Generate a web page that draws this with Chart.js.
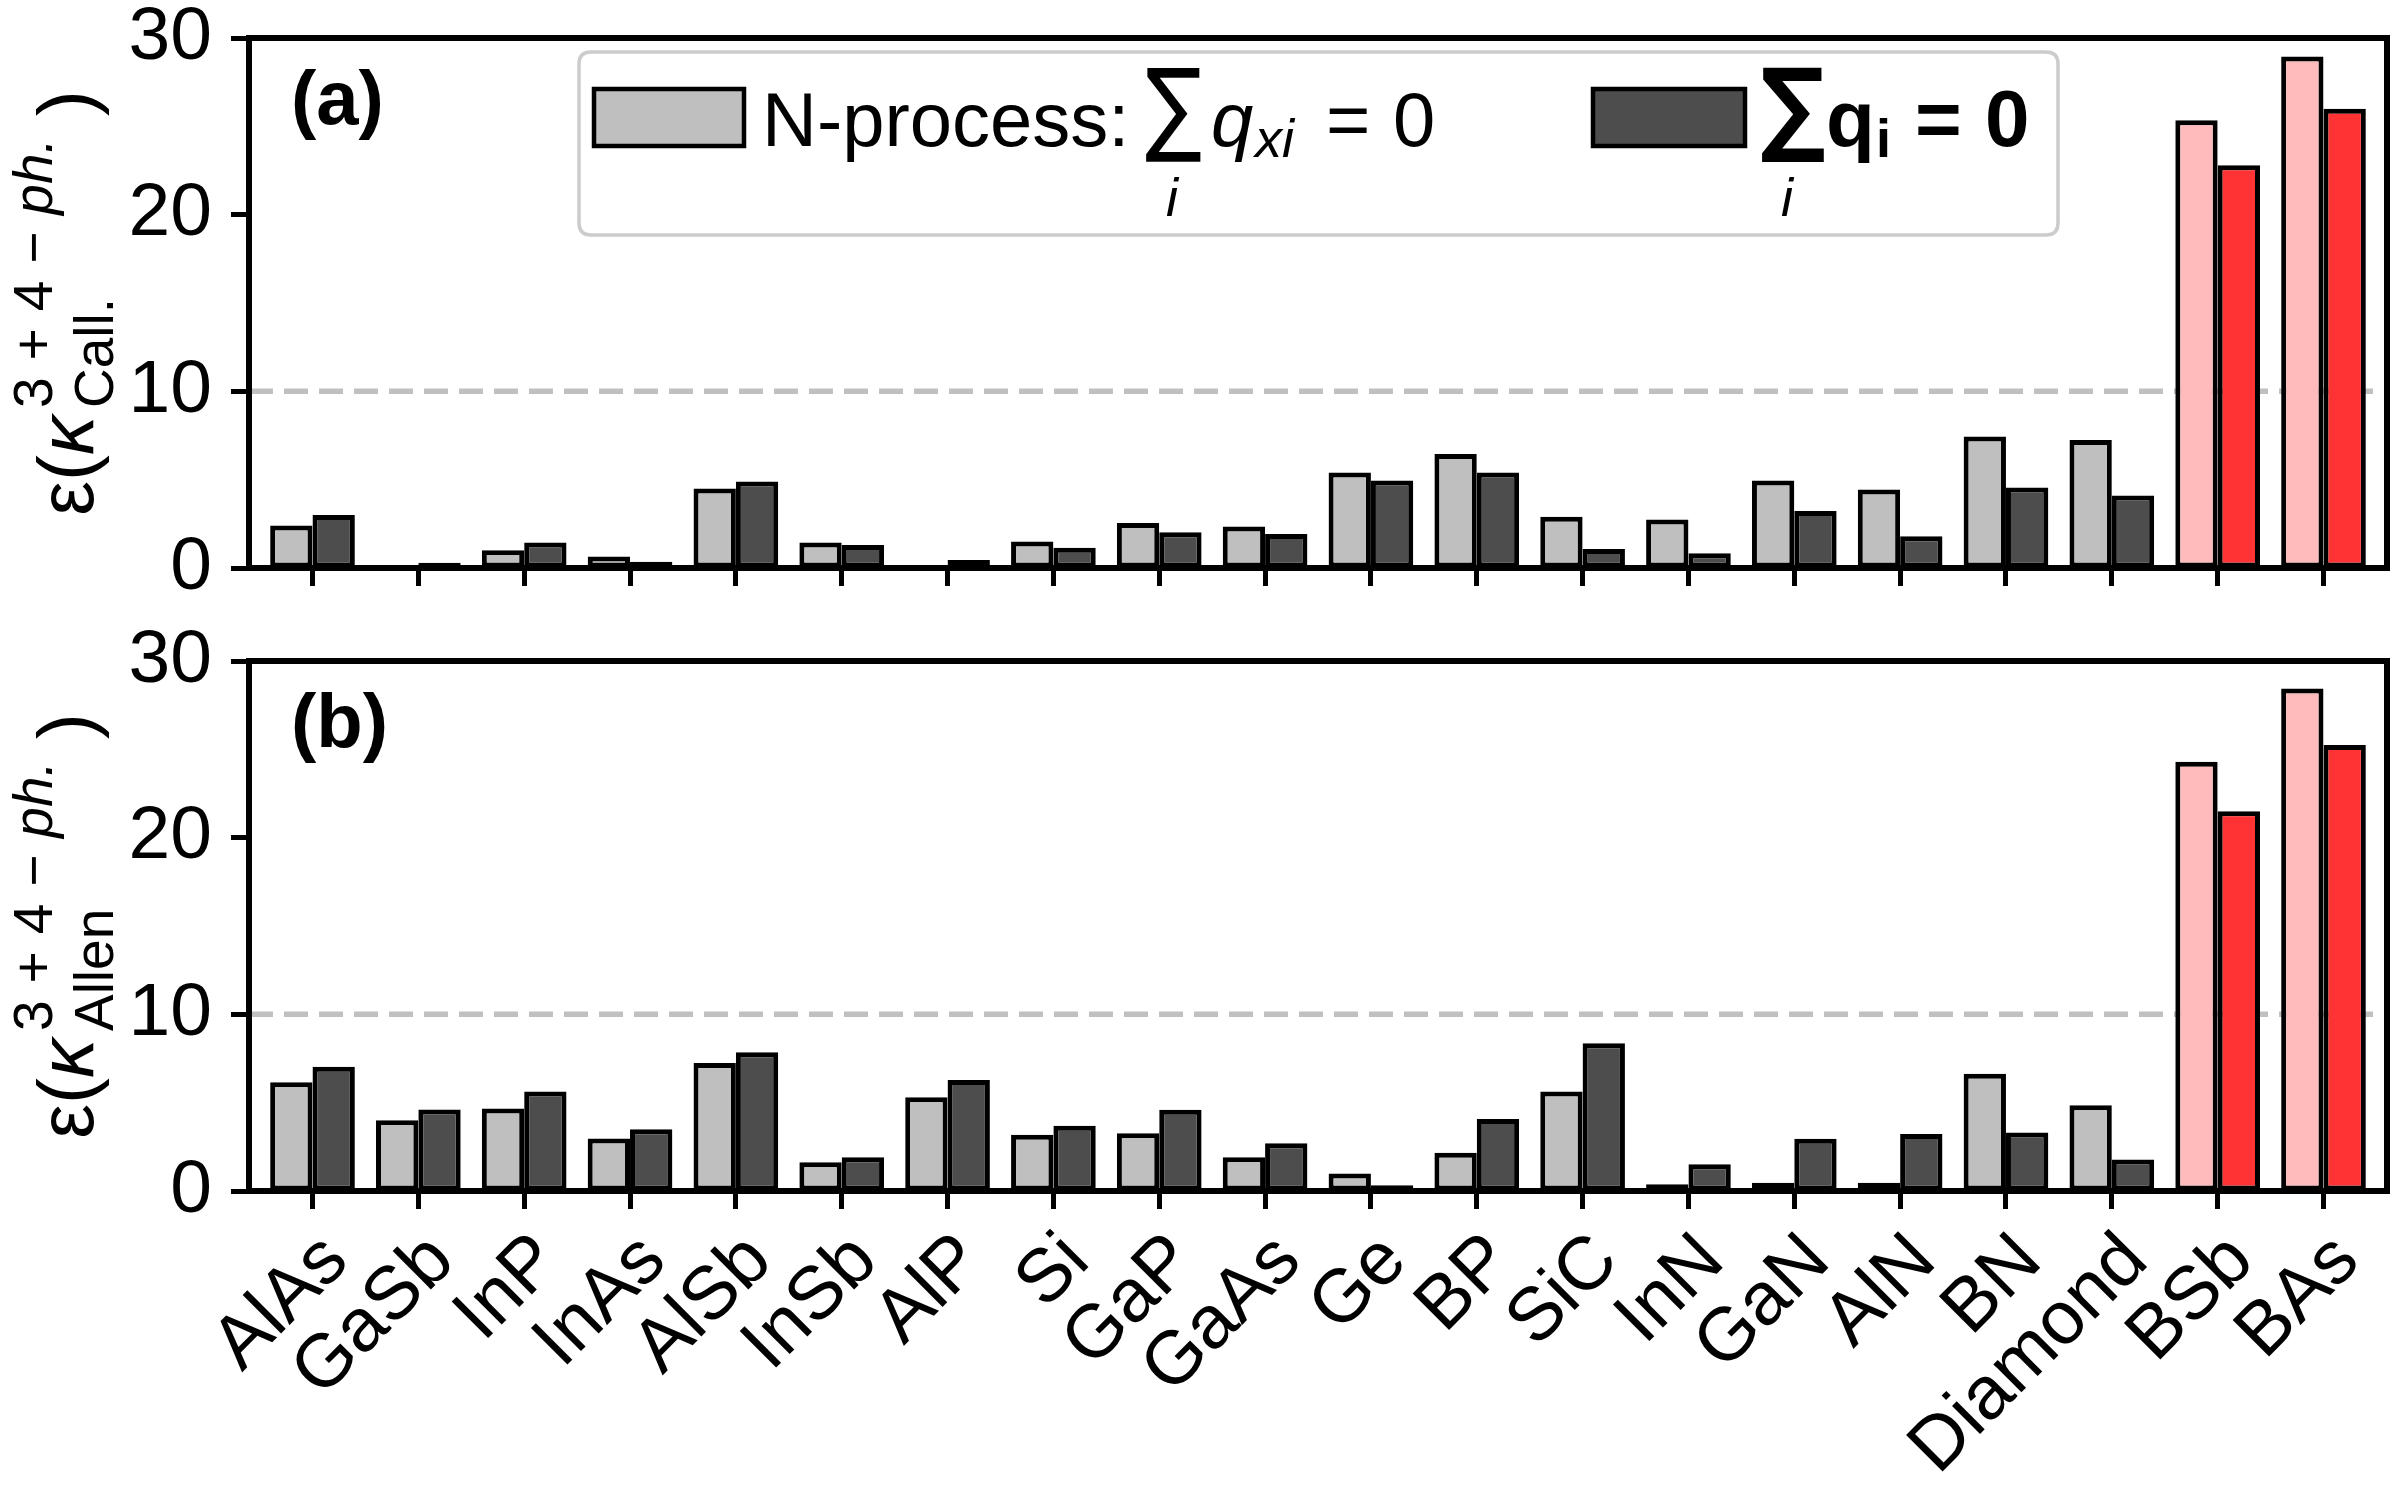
<!DOCTYPE html>
<html><head><meta charset="utf-8">
<script src="https://cdn.jsdelivr.net/npm/chart.js@4.4.1/dist/chart.umd.min.js"></script>
<style>
html,body{margin:0;padding:0;background:#fff;}
#wrap{position:relative;width:2400px;height:1500px;background:#fff;overflow:hidden;}
canvas{position:absolute;left:0;}
</style></head><body>
<div id="wrap">
<canvas id="cA" width="2400" height="640" style="top:0;width:2400px;height:640px"></canvas>
<canvas id="cB" width="2400" height="920" style="top:580px;width:2400px;height:920px"></canvas>
</div>
<script>
// ---------------- data ----------------
const categories = ['AlAs','GaSb','InP','InAs','AlSb','InSb','AlP','Si','GaP','GaAs','Ge','BP','SiC','InN','GaN','AlN','BN','Diamond','BSb','BAs'];
// panel (a): Callaway
const nProcessCall = [2.4,0.05,1.0,0.65,4.5,1.45,0.05,1.5,2.55,2.35,5.4,6.45,2.9,2.75,4.95,4.45,7.45,7.25,25.35,28.95];
const totalCall    = [3.0,0.3,1.45,0.35,4.9,1.3,0.45,1.15,2.02,1.93,4.95,5.4,1.07,0.83,3.23,1.8,4.55,4.1,22.8,26.0];
// panel (b): Allen
const nProcessAllen = [6.15,4.0,4.67,2.97,7.25,1.63,5.3,3.18,3.27,1.91,0.99,2.17,5.63,0.38,0.47,0.47,6.64,4.86,24.3,28.45];
const totalAllen    = [7.03,4.62,5.63,3.49,7.86,1.91,6.29,3.7,4.6,2.7,0.33,4.08,8.37,1.52,2.96,3.22,3.31,1.78,21.5,25.25];
const yTicks = [0,10,20,30];
const highlighted = ['BSb','BAs'];
const thresholdValue = 10;

// ---------------- style ----------------
const FONT = 'Liberation Sans';
const C_LIGHT = '#bfbfbf', C_DARK = '#4d4d4d', C_PINK = '#ffbbbb', C_RED = '#ff3333';

const lightColors = categories.map(c => highlighted.includes(c) ? C_PINK : C_LIGHT);
const darkColors  = categories.map(c => highlighted.includes(c) ? C_RED : C_DARK);

function toXY(arr){ return arr.map((v,i)=>({x:i, y:v})); }

function drawSum(ctx, left, top, width, height, bold){
  const fam = (bold ? 'bold ' : '') ;
  ctx.font = fam + '100px "DejaVu Sans"';
  const m = ctx.measureText('\u2211');
  const h = m.actualBoundingBoxAscent + m.actualBoundingBoxDescent;
  const w = m.actualBoundingBoxLeft + m.actualBoundingBoxRight;
  const s = height / h;
  const sx = width / (w * s);
  ctx.save();
  ctx.translate(left, top);
  ctx.scale(sx * s, s);
  ctx.font = fam + '100px "DejaVu Sans"';
  ctx.textAlign = 'left'; ctx.textBaseline = 'alphabetic';
  ctx.fillText('\u2211', m.actualBoundingBoxLeft, m.actualBoundingBoxAscent);
  ctx.restore();
}

const framePlugin = {
  id: 'frame',
  beforeDatasetsDraw(chart){
    const ctx = chart.ctx, a = chart.chartArea;
    const y = chart.scales.y.getPixelForValue(thresholdValue);
    ctx.save();
    ctx.strokeStyle = '#c0c0c0'; ctx.lineWidth = 5.5; ctx.setLineDash([24,11]);
    ctx.beginPath(); ctx.moveTo(a.left, y); ctx.lineTo(a.right, y); ctx.stroke();
    ctx.restore();
  },
  afterDraw(chart, args, opts){
    const ctx = chart.ctx, a = chart.chartArea;
    ctx.save();
    ctx.strokeStyle = '#000'; ctx.lineWidth = 6;
    ctx.strokeRect(a.left, a.top, a.right - a.left, a.bottom - a.top);
    ctx.fillStyle = '#000';
    ctx.font = 'bold 76px "' + FONT + '"';
    ctx.textAlign = 'left'; ctx.textBaseline = 'alphabetic';
    ctx.fillText(opts.panel, 291, a.top + 86);
    drawYLabel(ctx, a, opts.sub);
    if (opts.legend) drawLegend(ctx);
    ctx.restore();
  }
};

function drawYLabel(ctx, a, sub){
  const main = '78px "' + FONT + '"', mainI = 'italic 78px "' + FONT + '"';
  const scr = '55px "' + FONT + '"', scrI = 'italic 55px "' + FONT + '"';
  const cy = (a.top + a.bottom) / 2;
  const baseX = 93;
  ctx.save();
  ctx.font = main;
  const wEps = ctx.measureText('\u03b5').width, wOpen = ctx.measureText('(').width, wClose = ctx.measureText(')').width;
  ctx.font = mainI; const wK = ctx.measureText('\u03ba').width;
  const sup = [['3',scr],['+',scr],['4',scr],['\u2212',scr],['ph.',scrI]];
  const gap = 17;
  let supW = 0;
  sup.forEach((p,i)=>{ ctx.font = p[1]; supW += ctx.measureText(p[0]).width + (i ? gap : 0); });
  ctx.font = scr; const subW = ctx.measureText(sub).width;
  const scriptW = Math.max(supW, subW);
  const total = wEps + wOpen + wK + 8 + scriptW + 22 + wClose;
  ctx.translate(baseX, cy + total / 2);
  ctx.rotate(-Math.PI / 2);
  ctx.fillStyle = '#000'; ctx.textAlign = 'left'; ctx.textBaseline = 'alphabetic';
  let x = 0;
  ctx.font = main; ctx.fillText('\u03b5', x, 0); x += wEps;
  ctx.fillText('(', x, 0); x += wOpen;
  ctx.font = mainI; ctx.fillText('\u03ba', x, 0); x += wK + 8;
  let sx = x;
  sup.forEach((p,i)=>{ ctx.font = p[1]; ctx.fillText(p[0], sx, -41); sx += ctx.measureText(p[0]).width + gap; });
  ctx.font = scr; ctx.fillText(sub, x, 20);
  x += scriptW + 22;
  ctx.font = main; ctx.fillText(')', x, 0);
  ctx.restore();
}

function drawLegend(ctx){
  ctx.save();
  const L = 579, T = 52, R = 2058, B = 235, r = 12;
  ctx.beginPath();
  ctx.moveTo(L + r, T); ctx.lineTo(R - r, T); ctx.quadraticCurveTo(R, T, R, T + r);
  ctx.lineTo(R, B - r); ctx.quadraticCurveTo(R, B, R - r, B);
  ctx.lineTo(L + r, B); ctx.quadraticCurveTo(L, B, L, B - r);
  ctx.lineTo(L, T + r); ctx.quadraticCurveTo(L, T, L + r, T); ctx.closePath();
  ctx.fillStyle = 'rgba(255,255,255,0.8)'; ctx.fill();
  ctx.strokeStyle = '#cccccc'; ctx.lineWidth = 3.5; ctx.stroke();
  ctx.lineWidth = 4.5; ctx.strokeStyle = '#000';
  ctx.fillStyle = C_LIGHT; ctx.fillRect(594, 89, 150, 57); ctx.strokeRect(594, 89, 150, 57);
  ctx.fillStyle = C_DARK; ctx.fillRect(1593, 89, 152, 57); ctx.strokeRect(1593, 89, 152, 57);
  ctx.fillStyle = '#000'; ctx.textAlign = 'left'; ctx.textBaseline = 'alphabetic';
  ctx.font = '76px "' + FONT + '"';
  ctx.fillText('N-process:', 762, 146);
  drawSum(ctx, 1146, 68, 55, 95, false);
  ctx.font = 'italic 54px "' + FONT + '"'; ctx.fillText('i', 1166, 216);
  ctx.font = 'italic 76px "' + FONT + '"'; ctx.fillText('q', 1211, 146);
  ctx.font = 'italic 54px "' + FONT + '"'; ctx.fillText('xi', 1255, 157);
  ctx.font = '76px "' + FONT + '"'; ctx.fillText('=', 1326, 146); ctx.fillText('0', 1393, 146);
  drawSum(ctx, 1762, 68, 62, 95, true);
  ctx.font = 'italic 54px "' + FONT + '"'; ctx.fillText('i', 1781, 216);
  ctx.font = 'bold 80px "' + FONT + '"'; ctx.fillText('q', 1826, 146);
  ctx.font = 'bold 54px "' + FONT + '"'; ctx.fillText('i', 1876, 157);
  ctx.font = 'bold 80px "' + FONT + '"'; ctx.fillText('=', 1915, 146); ctx.fillText('0', 1985, 146);
  ctx.restore();
}

function makeChart(id, nVals, tVals, cfg){
  return new Chart(document.getElementById(id), {
    type: 'bar',
    data: {
      datasets: [
        { label: 'N-process', data: toXY(nVals), backgroundColor: lightColors, borderColor: '#000', borderWidth: 5, borderSkipped: false, barPercentage: 1.0, categoryPercentage: 0.8 },
        { label: 'total', data: toXY(tVals), backgroundColor: darkColors, borderColor: '#000', borderWidth: 5, borderSkipped: false, barPercentage: 1.0, categoryPercentage: 0.8 }
      ]
    },
    options: {
      responsive: false, animation: false, devicePixelRatio: 1,
      layout: { padding: { left: 0, right: 13, top: cfg.top, bottom: 0 } },
      plugins: { legend: { display: false }, tooltip: { enabled: false },
                 frame: { panel: cfg.panel, sub: cfg.sub, legend: cfg.legend } },
      scales: {
        x: {
          type: 'linear', min: -0.6, max: 19.6, offset: false,
          afterBuildTicks: s => { s.ticks = categories.map((c,i)=>({value:i})); },
          afterFit: s => { s.height = cfg.xHeight; s.paddingLeft = 0; s.paddingRight = 0; },
          ticks: { autoSkip: false, maxRotation: 45, minRotation: 45, padding: cfg.xPad, labelOffset: 24,
                   font: { family: FONT, size: 75 }, color: '#000',
                   callback: v => cfg.showLabels ? categories[v] : '' },
          grid: { display: true, offset: false, drawOnChartArea: false, drawTicks: true, tickLength: 18, tickWidth: 5, tickColor: '#000' },
          border: { display: false }
        },
        y: {
          min: 0, max: 30,
          afterBuildTicks: s => { s.ticks = yTicks.map(v=>({value:v})); },
          afterFit: s => { s.width = 249; s.paddingTop = 0; s.paddingBottom = 0; },
          ticks: { padding: 19, font: { family: FONT, size: 75 }, color: '#000' },
          grid: { display: true, drawOnChartArea: false, drawTicks: true, tickLength: 18, tickWidth: 5, tickColor: '#000' },
          border: { display: false }
        }
      }
    },
    plugins: [framePlugin]
  });
}

makeChart('cA', nProcessCall, totalCall, { top: 38, xHeight: 72, xPad: 0, showLabels: false, panel: '(a)', sub: 'Call.', legend: true });
makeChart('cB', nProcessAllen, totalAllen, { top: 81, xHeight: 309, xPad: 8, showLabels: true, panel: '(b)', sub: 'Allen', legend: false });
</script>
</body></html>
